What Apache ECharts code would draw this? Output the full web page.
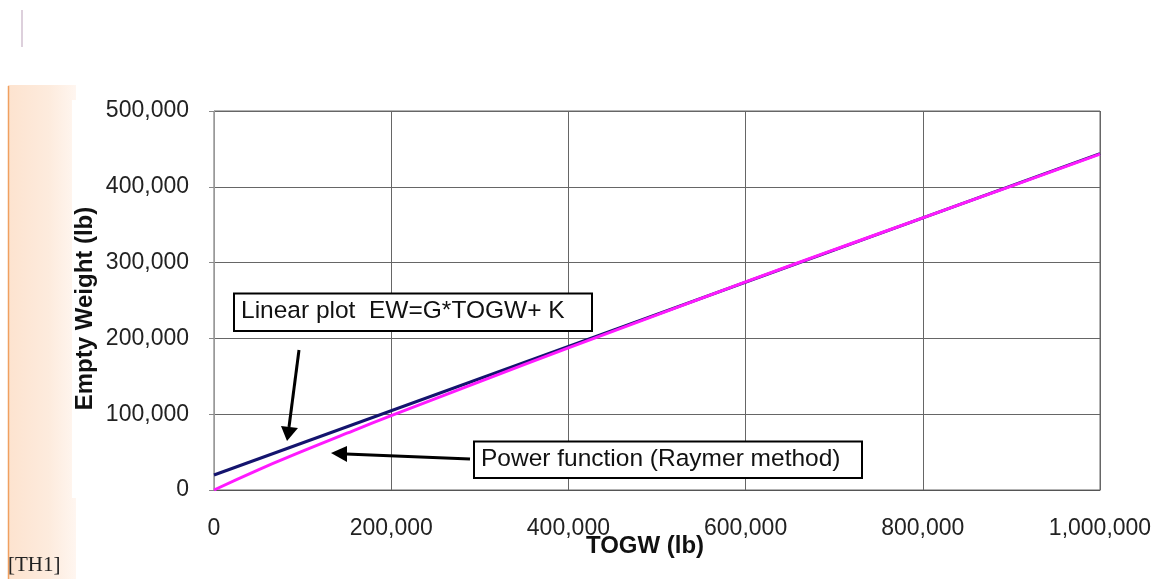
<!DOCTYPE html>
<html>
<head>
<meta charset="utf-8">
<script src="https://cdn.jsdelivr.net/npm/echarts@6/dist/echarts.min.js"></script>
<style>
html, body { margin: 0; padding: 0; background: #fff; }
#main { width: 1163px; height: 579px; }
</style>
</head>
<body>
<div id="main"></div>
<script>
// TOGW values (lb) and empty weights
var togwLinear = [0, 1000000];
var ewLinear = [19800, 443800];

var togwPower = [0, 50000, 100000, 150000, 200000, 300000, 400000, 500000, 600000, 700000, 800000, 900000, 1000000];
var ewPower = [0, 26700, 51200, 74900, 98000, 143000, 187600, 231000, 274500, 317000, 359000, 401000, 443000];

var xTicks = [0, 200000, 400000, 600000, 800000, 1000000];
var yTicks = [0, 100000, 200000, 300000, 400000, 500000];

function fmt(v) {
    return v.toLocaleString('en-US');
}

var linearData = togwLinear.map(function (x, i) { return [x, ewLinear[i]]; });
var powerData = togwPower.map(function (x, i) { return [x, ewPower[i]]; });

var chart = echarts.init(document.getElementById('main'));

var option = {
    animation: false,
    backgroundColor: '#fff',
    grid: { left: 214, right: 63, top: 111, bottom: 89, show: true, borderColor: '#666', borderWidth: 1 },
    xAxis: {
        type: 'value',
        min: xTicks[0], max: xTicks[xTicks.length - 1], interval: 200000,
        name: 'TOGW (lb)',
        nameLocation: 'middle',
        nameGap: 44,
        nameMoveOverlap: false,
        nameTextStyle: { fontFamily: 'Liberation Sans', fontSize: 24, fontWeight: 'bold', color: '#111', padding: [0, 24, 0, 0] },
        axisLine: { show: true, lineStyle: { color: '#555', width: 1 } },
        axisTick: { show: false },
        axisLabel: { margin: 27, fontFamily: 'Liberation Sans', fontSize: 23, color: '#222', formatter: fmt },
        splitLine: { show: true, lineStyle: { color: '#666', width: 1 } }
    },
    yAxis: {
        type: 'value',
        min: yTicks[0], max: yTicks[yTicks.length - 1], interval: 100000,
        name: 'Empty Weight (lb)',
        nameLocation: 'middle',
        nameGap: 117,
        nameMoveOverlap: false,
        nameTextStyle: { fontFamily: 'Liberation Sans', fontSize: 24, fontWeight: 'bold', color: '#111', padding: [0, 16, 0, 0] },
        axisLine: { show: true, lineStyle: { color: '#999', width: 1 } },
        axisTick: { show: true, length: 5, lineStyle: { color: '#888' } },
        axisLabel: { margin: 25, fontFamily: 'Liberation Sans', fontSize: 23, color: '#222', formatter: fmt },
        splitLine: { show: true, lineStyle: { color: '#666', width: 1 } }
    },
    series: [
        {
            name: 'Linear',
            type: 'line',
            data: linearData,
            showSymbol: false,
            lineStyle: { color: '#14146e', width: 3 },
            z: 3
        },
        {
            name: 'Power',
            type: 'line',
            data: powerData,
            smooth: true,
            showSymbol: false,
            lineStyle: { color: '#ff1aff', width: 3 },
            z: 4
        }
    ],
    graphic: [
        // orange side strip
        {
            type: 'rect', z: -10, silent: true,
            shape: { x: 8, y: 85, width: 68, height: 494 },
            style: {
                fill: new echarts.graphic.LinearGradient(0, 0, 1, 0, [
                    { offset: 0, color: '#fde3cf' },
                    { offset: 0.6, color: '#fdebdd' },
                    { offset: 1, color: '#fff6f0' }
                ])
            }
        },
        {
            type: 'rect', z: -9, silent: true,
            shape: { x: 72, y: 100, width: 1091, height: 398 },
            style: { fill: '#fff' }
        },
        {
            type: 'line', silent: true,
            shape: { x1: 8.5, y1: 86, x2: 8.5, y2: 579 },
            style: { stroke: '#f0a060', lineWidth: 1.5 }
        },
        {
            type: 'line', silent: true,
            shape: { x1: 22, y1: 10, x2: 22, y2: 47 },
            style: { stroke: '#ddd0dc', lineWidth: 2 }
        },
        {
            type: 'text', left: 8, top: 555,
            style: { text: '[TH1]', fontFamily: 'Liberation Serif', fontSize: 21, fill: '#222' }
        },
        // annotation boxes
        {
            type: 'rect', z: 10,
            shape: { x: 234, y: 293.5, width: 358, height: 37.5 },
            style: { fill: '#fff', stroke: '#000', lineWidth: 2 }
        },
        {
            type: 'text', z: 11, left: 241, top: 299,
            style: { text: 'Linear plot  EW=G*TOGW+ K', fontFamily: 'Liberation Sans', fontSize: 24.5, fill: '#111' }
        },
        {
            type: 'rect', z: 10,
            shape: { x: 474, y: 441.5, width: 388, height: 36.5 },
            style: { fill: '#fff', stroke: '#000', lineWidth: 2 }
        },
        {
            type: 'text', z: 11, left: 481, top: 447,
            style: { text: 'Power function (Raymer method)', fontFamily: 'Liberation Sans', fontSize: 24.5, fill: '#111' }
        },
        // arrows
        {
            type: 'line', z: 10,
            shape: { x1: 299, y1: 350, x2: 289, y2: 427 },
            style: { stroke: '#000', lineWidth: 3 }
        },
        {
            type: 'polygon', z: 10,
            shape: { points: [[281, 426], [298, 428], [287, 441]] },
            style: { fill: '#000' }
        },
        {
            type: 'line', z: 10,
            shape: { x1: 470, y1: 459, x2: 346, y2: 454 },
            style: { stroke: '#000', lineWidth: 3 }
        },
        {
            type: 'polygon', z: 10,
            shape: { points: [[347, 446], [347, 462], [331, 453]] },
            style: { fill: '#000' }
        }
    ]
};

chart.setOption(option);
</script>
</body>
</html>
